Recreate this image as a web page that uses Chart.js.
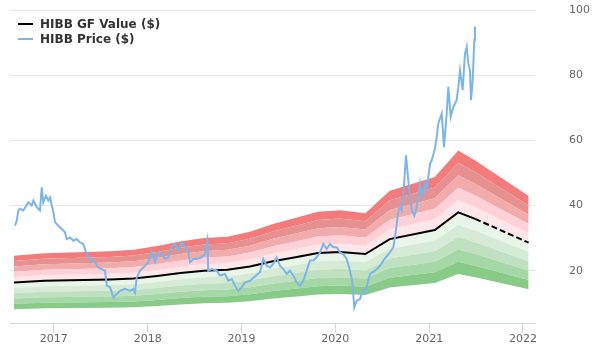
<!DOCTYPE html>
<html>
<head>
<meta charset="utf-8">
<script src="https://cdn.jsdelivr.net/npm/chart.js@4/dist/chart.umd.min.js"></script>
<style>
  body { margin: 0; background: #fff; }
  #wrap { width: 600px; height: 360px; }
</style>
</head>
<body>
<div id="wrap"><canvas id="gfChart" width="600" height="360"></canvas></div>
<script>
// GF Value line (decimal year, $)
const gfDates = [2016.575, 2016.9, 2017.6, 2017.85, 2018.1, 2018.35, 2018.6, 2018.85, 2019.09, 2019.335,
                 2019.59, 2019.815, 2020.05, 2020.32, 2020.58, 2021.06, 2021.31, 2021.49, 2022.06];
const gfValues = [16.4, 16.9, 17.3, 17.6, 18.4, 19.3, 20.0, 20.3, 21.3, 22.9,
                  24.2, 25.4, 25.7, 25.1, 29.7, 32.5, 37.9, 35.9, 28.6];
const todayX = 2021.49; // after this the GF line is dashed

// price (decimal year, $)
const priceDates = [
  2016.587, 2016.605, 2016.622, 2016.64, 2016.675, 2016.728, 2016.764, 2016.782, 2016.818, 2016.853,
  2016.871, 2016.888, 2016.917, 2016.941, 2016.96, 2016.978, 2016.995, 2017.013, 2017.048, 2017.084,
  2017.119, 2017.137, 2017.173, 2017.208, 2017.244, 2017.279, 2017.314, 2017.343, 2017.368, 2017.404,
  2017.439, 2017.474, 2017.51, 2017.546, 2017.564, 2017.599, 2017.634, 2017.67, 2017.705, 2017.759,
  2017.812, 2017.847, 2017.865, 2017.883, 2017.919, 2017.972, 2018.007, 2018.043, 2018.078, 2018.114,
  2018.15, 2018.185, 2018.22, 2018.256, 2018.292, 2018.327, 2018.363, 2018.398, 2018.433, 2018.451,
  2018.487, 2018.523, 2018.576, 2018.611, 2018.636, 2018.646, 2018.683, 2018.736, 2018.771, 2018.824,
  2018.86, 2018.896, 2018.931, 2018.966, 2019.002, 2019.037, 2019.091, 2019.144, 2019.197, 2019.232,
  2019.269, 2019.304, 2019.339, 2019.375, 2019.41, 2019.446, 2019.482, 2019.517, 2019.552, 2019.588,
  2019.624, 2019.659, 2019.695, 2019.73, 2019.766, 2019.801, 2019.837, 2019.872, 2019.908, 2019.943,
  2019.978, 2020.015, 2020.05, 2020.085, 2020.121, 2020.156, 2020.18, 2020.202, 2020.228, 2020.263,
  2020.288, 2020.316, 2020.37, 2020.423, 2020.476, 2020.529, 2020.582, 2020.618, 2020.636, 2020.654,
  2020.671, 2020.689, 2020.707, 2020.724, 2020.753, 2020.771, 2020.788, 2020.814, 2020.842, 2020.867,
  2020.884, 2020.902, 2020.92, 2020.938, 2020.956, 2020.974, 2020.991, 2021.009, 2021.027, 2021.062,
  2021.08, 2021.097, 2021.134, 2021.158, 2021.187, 2021.204, 2021.23, 2021.257, 2021.293, 2021.311,
  2021.329, 2021.357, 2021.382, 2021.4, 2021.417, 2021.435, 2021.446, 2021.464, 2021.481, 2021.488
];
const priceValues = [
  33.8, 35.4, 38.5, 39.0, 38.5, 41.0, 40.0, 41.5, 39.5, 38.5,
  45.6, 41.0, 43.0, 41.5, 42.5, 40.0, 38.0, 34.9, 33.8, 32.8,
  31.8, 29.7, 30.2, 29.2, 29.7, 28.7, 28.2, 25.6, 24.1, 23.1,
  22.6, 21.0, 20.5, 20.0, 15.4, 14.9, 11.8, 12.8, 13.8, 14.4,
  13.8, 14.4, 13.3, 17.9, 20.0, 21.5, 22.6, 25.6, 22.6, 25.6,
  25.1, 23.6, 24.1, 27.2, 28.2, 26.2, 28.7, 27.2, 25.6, 22.6,
  23.6, 23.6, 24.1, 25.1, 29.2, 20.0, 20.5, 20.0, 18.5, 19.0,
  16.9, 17.4, 15.4, 13.8, 14.9, 16.4, 16.9, 18.2, 19.5, 23.6,
  21.5, 21.0, 22.1, 24.1, 21.5, 20.5, 19.0, 20.0, 18.5, 16.4,
  15.4, 16.9, 20.0, 23.1, 23.1, 24.1, 25.6, 28.2, 26.7, 28.2,
  27.2, 27.2, 25.6, 25.1, 23.6, 20.0, 16.9, 8.7, 10.8, 11.3,
  13.8, 13.3, 19.0, 20.0, 21.5, 23.8, 25.6, 27.2, 30.2, 34.4,
  37.9, 39.5, 38.5, 42.6, 55.4, 49.8, 44.6, 38.5, 36.9, 39.5,
  43.6, 46.7, 42.6, 44.6, 46.7, 45.1, 48.7, 52.8, 53.8, 57.5,
  61.0, 65.1, 68.2, 57.9, 68.2, 76.4, 67.2, 70.2, 72.3, 76.4,
  81.5, 75.4, 86.7, 88.7, 83.6, 81.5, 72.3, 78.5, 90.8, 94.9
];

// band edges as multiples of the GF Value, bottom to top, and the fill of the band under each edge
const bandFactors = [0.5, 0.6, 0.7, 0.8, 0.9, 1.0, 1.1, 1.2, 1.3, 1.4, 1.5];
const bandColors = [null, '#88cb88', '#a6d7a6', '#bfe1bf', '#d5ebd5', '#eaf5ea',
                    '#ffe6e8', '#ffd0d5', '#f1abab', '#e69090', '#f47b7b'];

const xTicks = [2017, 2018, 2019, 2020, 2021, 2022];
const yTicks = [20, 40, 60, 80, 100];

const pts = (xs, ys) => xs.map((x, i) => ({ x: x, y: ys[i] }));

const bandSets = bandFactors.map((f, i) => ({
  label: 'band' + f,
  data: gfDates.map((x, j) => ({ x: x, y: gfValues[j] * f })),
  borderWidth: 0,
  pointRadius: 0,
  backgroundColor: bandColors[i] || 'transparent',
  fill: i === 0 ? false : '-1',
  order: 2 + i
}));

// legend drawn inside the plot, top left, one entry per row
const insideLegend = {
  id: 'insideLegend',
  afterDraw(chart) {
    const c = chart.ctx;
    const a = chart.chartArea;
    const items = [chart.data.datasets[1], chart.data.datasets[0]];
    c.save();
    c.font = 'bold 12px "DejaVu Sans"';
    c.textBaseline = 'middle';
    items.forEach((ds, i) => {
      const y = a.top + 14 + i * 15;
      c.strokeStyle = ds.borderColor;
      c.lineWidth = 2;
      c.beginPath();
      c.moveTo(a.left + 8, y);
      c.lineTo(a.left + 23, y);
      c.stroke();
      c.fillStyle = '#333';
      c.fillText(ds.label, a.left + 30, y + 1);
    });
    c.restore();
  }
};

const ctx = document.getElementById('gfChart');

new Chart(ctx, {
  type: 'line',
  data: {
    datasets: [
      {
        label: 'HIBB Price ($)',
        data: pts(priceDates, priceValues),
        borderColor: '#7cb5ec',
        backgroundColor: '#7cb5ec',
        borderWidth: 2,
        pointRadius: 0,
        fill: false,
        order: 0
      },
      {
        label: 'HIBB GF Value ($)',
        data: pts(gfDates, gfValues),
        borderColor: '#000',
        backgroundColor: '#000',
        borderWidth: 2,
        pointRadius: 0,
        fill: false,
        segment: {
          borderDash: c => c.p0.parsed.x >= todayX ? [6, 3] : undefined
        },
        order: 1
      }
    ].concat(bandSets)
  },
  plugins: [insideLegend],
  options: {
    responsive: false,
    animation: false,
    layout: { padding: { left: 10, right: 0, top: 10, bottom: 14 } },
    plugins: {
      tooltip: { enabled: false },
      legend: { display: false }
    },
    scales: {
      x: {
        type: 'linear',
        min: 2016.533,
        max: 2022.128,
        afterBuildTicks: axis => { axis.ticks = xTicks.map(v => ({ value: v })); },
        ticks: {
          callback: v => String(v),
          color: '#666',
          font: { family: 'DejaVu Sans', size: 11 },
          padding: 0,
          maxRotation: 0
        },
        grid: { drawOnChartArea: false, tickLength: 9, color: '#ccd6eb' },
        border: { color: '#ccd6eb' }
      },
      y: {
        position: 'right',
        min: 3.7,
        max: 100,
        afterBuildTicks: axis => { axis.ticks = yTicks.map(v => ({ value: v })); },
        afterFit: axis => {
          axis.width = 65;
          axis.paddingTop = 0;
          axis.paddingBottom = 0;
        },
        ticks: {
          color: '#666',
          font: { family: 'DejaVu Sans', size: 11 },
          padding: 34
        },
        grid: { color: '#e6e6e6', drawTicks: false },
        border: { display: false }
      }
    }
  }
});
</script>
</body>
</html>
